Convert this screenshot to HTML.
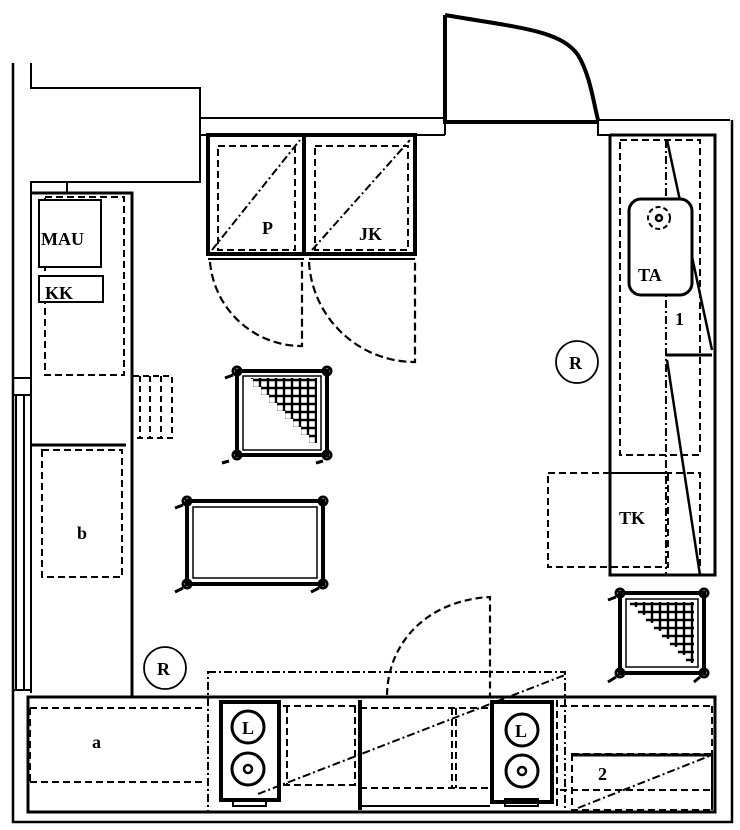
<!DOCTYPE html>
<html><head><meta charset="utf-8"><style>
html,body{margin:0;padding:0;background:#fff;}
svg{display:block;}
text{font-family:"Liberation Serif",serif;font-weight:bold;fill:#000;}
</style></head><body>
<svg width="740" height="830" viewBox="0 0 740 830" xmlns="http://www.w3.org/2000/svg">
<defs>
<pattern id="g" width="8" height="8" patternUnits="userSpaceOnUse">
<rect width="8" height="8" fill="#fff"/>
<path d="M0 4H8M4 0V8" stroke="#000" stroke-width="2.4"/>
</pattern>
</defs>
<g fill="none" stroke="#000">
<!-- outer walls -->
<path d="M13 63V822H732V120" stroke-width="2.5"/>
<path d="M31 63V88H200V182H31V693" stroke-width="2"/>
<path d="M200 118H445M200 135H445M200 118V135M445 118V135" stroke-width="2"/>
<path d="M598 120H730M598 120V135H612" stroke-width="2"/>
<!-- top door -->
<path d="M445 15V122H598" stroke-width="4"/>
<path d="M445 15C520 28 560 30 578 55C590 75 593 100 598 120" stroke-width="4"/>
<!-- window left -->
<path d="M13 378H31M13 395H31M16 395V690M24 395V690M13 690H31" stroke-width="2"/>
<!-- left counter -->
<path d="M31 193H132V697" stroke-width="3"/>
<path d="M67 182V193" stroke-width="2"/>
<rect x="45" y="197" width="79" height="178" stroke-dasharray="7 4" stroke-width="2"/>
<rect x="39" y="200" width="62" height="67" fill="#fff" stroke-width="2"/>
<rect x="39" y="276" width="64" height="26" fill="#fff" stroke-width="2"/>
<path d="M31 445H126" stroke-width="3"/>
<rect x="42" y="450" width="80" height="127" stroke-dasharray="7 4" stroke-width="2"/>
<path d="M133 376H172V438H133M140 376V438M150 376V438M161 376V438" stroke-dasharray="6 4" stroke-width="2"/>
<!-- fridges -->
<rect x="208" y="135" width="96" height="119" stroke-width="4"/>
<rect x="304" y="135" width="111" height="119" stroke-width="4"/>
<path d="M208 259H304M309 259H415" stroke-width="2"/>
<rect x="218" y="146" width="77" height="104" stroke-dasharray="7 4" stroke-width="2"/>
<rect x="315" y="146" width="93" height="104" stroke-dasharray="7 4" stroke-width="2"/>
<path d="M212 250L300 140M312 250L410 140" stroke-dasharray="8 3 2 3" stroke-width="2"/>
<path d="M210 262A92 92 0 0 0 302 346V262" stroke-dasharray="8 4" stroke-width="2.2"/>
<path d="M309 262A106 106 0 0 0 415 362V262" stroke-dasharray="8 4" stroke-width="2.2"/>
<!-- right counter -->
<path d="M610 135V575H715V135H610" stroke-width="3"/>
<rect x="620" y="140" width="80" height="315" stroke-dasharray="7 4" stroke-width="2"/>
<path d="M666 140V575" stroke-dasharray="8 3 2 3" stroke-width="2"/>
<path d="M667 140L712 350M667 360L700 575" stroke-width="2.5"/>
<path d="M666 355H712" stroke-width="3"/>
<rect x="629" y="199" width="63" height="96" rx="12" fill="#fff" stroke-width="3"/>
<circle cx="659" cy="218" r="11" stroke-dasharray="5 3" stroke-width="2"/>
<circle cx="659" cy="218" r="3" stroke-width="2.5"/>
<rect x="548" y="473" width="120" height="94" stroke-dasharray="7 4" stroke-width="2"/>
<path d="M610 473H700V567" stroke-dasharray="7 4" stroke-width="2"/>
<!-- R circles -->
<circle cx="577" cy="362" r="21" stroke-width="1.8"/>
<circle cx="165" cy="668" r="21" stroke-width="1.8"/>
<!-- trolley 1 -->
<rect x="237" y="371" width="90" height="84" stroke-width="4"/>
<rect x="243" y="376" width="78" height="74" stroke-width="1.5"/>
<polygon points="247,378 317,378 317,443 309,443 309,435 301,435 301,427 293,427 293,419 285,419 285,411 277,411 277,403 269,403 269,395 261,395 261,387 253,387 253,379" fill="url(#g)" stroke="none"/>
<!-- trolley 2 -->
<rect x="187" y="501" width="136" height="83" stroke-width="4"/>
<rect x="193" y="507" width="124" height="71" stroke-width="1.5"/>
<!-- trolley 3 -->
<rect x="620" y="593" width="84" height="80" stroke-width="4"/>
<rect x="626" y="599" width="72" height="68" stroke-width="1.5"/>
<polygon points="630,602 694,602 694,663 686,663 686,655 678,655 678,647 670,647 670,639 662,639 662,631 654,631 654,623 646,623 646,615 638,615 638,607 630,607" fill="url(#g)" stroke="none"/>
<!-- wheels -->
<g stroke-width="3">
<circle cx="237" cy="371" r="4"/><circle cx="327" cy="371" r="4"/><circle cx="237" cy="455" r="4"/><circle cx="327" cy="455" r="4"/>
<path d="M233 375L225 378M229 461L222 463M323 461L316 463"/>
<circle cx="187" cy="501" r="4"/><circle cx="323" cy="501" r="4"/><circle cx="187" cy="584" r="4"/><circle cx="323" cy="584" r="4"/>
<path d="M183 505L175 508M183 588L175 592M319 588L311 592"/>
<circle cx="620" cy="593" r="4"/><circle cx="704" cy="593" r="4"/><circle cx="620" cy="673" r="4"/><circle cx="704" cy="673" r="4"/>
<path d="M616 597L608 600M616 677L608 682M700 677L694 682"/>
</g>
<!-- bottom counter -->
<path d="M28 697H715V812H28Z" stroke-width="3"/>
<path d="M30 708H205M30 782H205M30 708V782" stroke-dasharray="7 4" stroke-width="2"/>
<rect x="208" y="672" width="357" height="140" stroke-dasharray="8 3 2 3" stroke-width="2"/>
<rect x="221" y="702" width="58" height="98" stroke-width="4"/>
<rect x="233" y="799" width="33" height="7" stroke-width="2"/>
<circle cx="248" cy="727" r="16" stroke-width="3"/>
<circle cx="248" cy="769" r="16" stroke-width="3"/>
<circle cx="248" cy="769" r="4" stroke-width="2.5"/>
<rect x="492" y="702" width="60" height="100" stroke-width="4"/>
<rect x="505" y="799" width="33" height="7" stroke-width="2"/>
<circle cx="522" cy="730" r="16" stroke-width="3"/>
<circle cx="522" cy="771" r="16" stroke-width="3"/>
<circle cx="522" cy="771" r="4" stroke-width="2.5"/>
<path d="M283 706H356M283 785H356M287 706V785M355 706V785" stroke-dasharray="7 4" stroke-width="2"/>
<path d="M360 700V810" stroke-width="4"/>
<path d="M360 708H490M360 788H490M452 708V788M456 708V788" stroke-dasharray="7 4" stroke-width="2"/>
<path d="M360 806H490" stroke-width="2"/>
<path d="M560 706H712M560 790H712M557 700V810M712 706V810" stroke-dasharray="7 4" stroke-width="2"/>
<path d="M572 754H712V810H572Z" stroke-dasharray="7 4" stroke-width="2"/>
<path d="M572 755H712" stroke-width="3"/>
<path d="M258 794L565 675M578 808L712 755" stroke-dasharray="8 3 2 3" stroke-width="2"/>
<path d="M387 695C388 640 430 600 490 597V697" stroke-dasharray="7 4" stroke-width="2.2"/>
</g>
<g font-size="18">
<text x="41" y="245">MAU</text>
<text x="45" y="299">KK</text>
<text x="262" y="234">P</text>
<text x="359" y="240">JK</text>
<text x="638" y="281">TA</text>
<text x="675" y="325">1</text>
<text x="569" y="369">R</text>
<text x="77" y="539">b</text>
<text x="619" y="524">TK</text>
<text x="157" y="675">R</text>
<text x="92" y="748">a</text>
<text x="242" y="734">L</text>
<text x="515" y="737">L</text>
<text x="598" y="780">2</text>
</g>
</svg>
</body></html>
